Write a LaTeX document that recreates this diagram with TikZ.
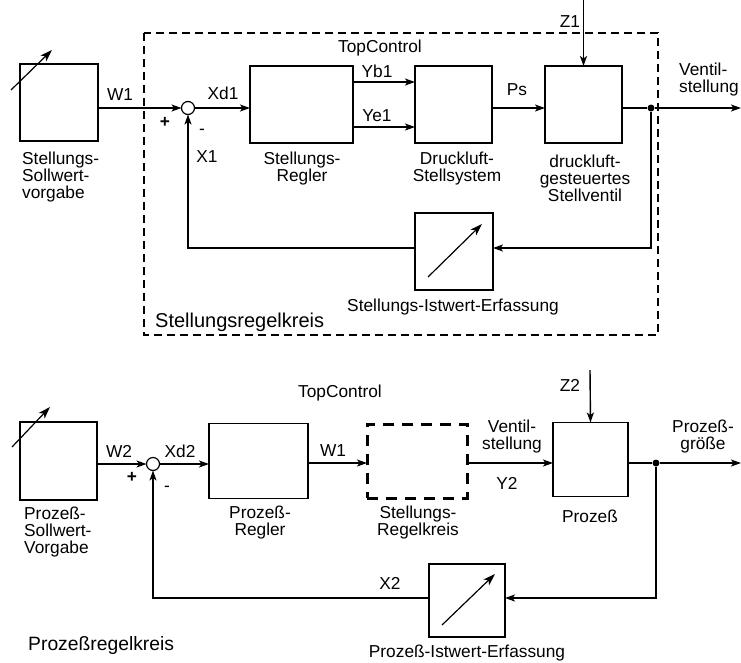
\documentclass[tikz,border=0pt]{standalone}
\usepackage{fontspec}
\setmainfont{Liberation Sans}
\usetikzlibrary{arrows.meta}
\newcommand{\lblfont}{\fontsize{17.3}{17}\selectfont}
\newcommand{\grpfont}{\fontsize{20}{22}\selectfont}
\begin{document}
\begin{tikzpicture}[x=1pt,y=-1pt,
  blk/.style={draw,line width=1.5pt,inner sep=0pt,outer sep=0pt},
  con/.style={line width=1.4pt},
  arr/.style={con,-{Stealth[length=10pt,width=7pt,inset=2.5pt]}},
  adj/.style={line width=1.2pt,-{Stealth[length=12pt,width=8pt,inset=3pt]}},
  lbl/.style={font=\lblfont,inner sep=0pt,align=center},
  grplbl/.style={font=\grpfont,inner sep=0pt,anchor=west},
  sumpt/.style={draw,circle,line width=1.2pt,minimum size=13pt,inner sep=0pt,outer sep=0pt},
  dotpt/.style={fill,circle,minimum size=7pt,inner sep=0pt},
  grp/.style={draw,line width=1.5pt,dash pattern=on 8pt off 5pt},
  grpb/.style={draw,line width=3pt,dash pattern=on 11pt off 8pt,inner sep=0pt,outer sep=0pt}]
\useasboundingbox (0,0) rectangle (741,662);

% ---------- upper loop ----------
\draw[grp] (144,33) rectangle (658,335);
\node[blk,minimum width=78pt,minimum height=77pt] (sw1) at (59,102.5) {};
\draw[adj] (11,90) -- (52,50);
\node[sumpt] (s1) at (188,108) {};
\node[blk,minimum width=103pt,minimum height=77pt] (reg1) at (301.5,104.5) {};
\node[blk,minimum width=77pt,minimum height=77pt] (act1) at (453.5,104.5) {};
\node[blk,minimum width=77pt,minimum height=77pt] (val1) at (583.5,104.5) {};
\node[blk,minimum width=78pt,minimum height=77pt] (ist1) at (454,251.5) {};
\draw[adj] (428,277) -- (482,224);
\node[dotpt] (j1) at (651,108) {};
\coordinate (o1) at (741,108);
\coordinate (z1) at (583.5,0);
\coordinate (yb) at (0,82);
\coordinate (ye) at (0,127);
\coordinate (fb1r) at (651,248);
\coordinate (fb1l) at (188,248);

\draw[arr] (sw1.east |- s1) -- (s1.west);
\draw[arr] (s1.east) -- (reg1.west |- s1);
\draw[arr] (reg1.east |- yb) -- (act1.west |- yb);
\draw[arr] (reg1.east |- ye) -- (act1.west |- ye);
\draw[arr] (act1.east |- s1) -- (val1.west |- s1);
\draw[con] (val1.east |- j1) -- (j1);
\draw[arr] (j1) -- (o1);
\draw[arr] (z1) -- (val1.north);
\draw[arr] (j1) -- (fb1r) -- (ist1.east |- fb1r);
\draw[arr] (ist1.west |- fb1r) -- (fb1l) -- (s1.south);

\node[lbl] at (380,48) {TopControl};
\node[lbl] at (120,95) {W1};
\node[lbl] at (165,122) {\textbf{+}};
\node[lbl] at (202,132) {-};
\node[lbl] at (223,93) {Xd1};
\node[lbl] at (207,157) {X1};
\node[lbl] at (377,71) {Yb1};
\node[lbl] at (377,116) {Ye1};
\node[lbl] at (517,90) {Ps};
\node[lbl] at (570,22) {Z1};
\node[lbl,align=left,anchor=west] at (679,80) {Ventil-\\stellung};
\node[lbl,align=left,anchor=west] at (22,177) {Stellungs-\\Sollwert-\\vorgabe};
\node[lbl] at (302,169) {Stellungs-\\Regler};
\node[lbl] at (457,169) {Druckluft-\\Stellsystem};
\node[lbl] at (585,178) {druckluft-\\gesteuertes\\Stellventil};
\node[lbl] at (453,307) {Stellungs-Istwert-Erfassung};
\node[grplbl] at (155,322) {Stellungsregelkreis};

% ---------- lower loop ----------
\node[blk,minimum width=77pt,minimum height=78pt] (sw2) at (58.5,461) {};
\draw[adj] (12,447) -- (50,407);
\node[sumpt] (s2) at (153,464) {};
\node[blk,minimum width=99pt,minimum height=75pt] (reg2) at (258.5,461) {};
\node[grpb,minimum width=100pt,minimum height=74pt] (stk) at (417,461) {};
\node[blk,minimum width=75pt,minimum height=74pt] (proc) at (590.5,459.5) {};
\node[blk,minimum width=76pt,minimum height=73pt] (ist2) at (467,600.5) {};
\draw[adj] (442,625) -- (495,574);
\node[dotpt] (j2) at (656,463) {};
\coordinate (o2) at (741,463);
\coordinate (z2) at (590,370);
\coordinate (fb2r) at (656,598);
\coordinate (fb2l) at (153,598);

\draw[arr] (sw2.east |- s2) -- (s2.west);
\draw[arr] (s2.east) -- (reg2.west |- s2);
\draw[arr] (reg2.east |- j2) -- (stk.west |- j2);
\draw[arr] (stk.east |- j2) -- (proc.west |- j2);
\draw[con] (proc.east |- j2) -- (j2);
\draw[arr] (j2) -- (o2);
\draw[arr] (z2) -- (proc.north);
\draw[arr] (j2) -- (fb2r) -- (ist2.east |- fb2r);
\draw[arr] (ist2.west |- fb2r) -- (fb2l) -- (s2.south);

\node[lbl] at (340,393) {TopControl};
\node[lbl] at (119,451) {W2};
\node[lbl] at (132,477) {\textbf{+}};
\node[lbl] at (167,489) {-};
\node[lbl] at (180,451) {Xd2};
\node[lbl] at (333,451) {W1};
\node[lbl] at (512,437) {Ventil-\\stellung};
\node[lbl] at (507,483) {Y2};
\node[lbl] at (570,385) {Z2};
\node[lbl] at (703,437) {Prozeß-\\größe};
\node[lbl] at (590,516) {Prozeß};
\node[lbl] at (418,523) {Stellungs-\\Regelkreis};
\node[lbl,align=left,anchor=west] at (24,532) {Prozeß-\\Sollwert-\\Vorgabe};
\node[lbl] at (260,523) {Prozeß-\\Regler};
\node[lbl] at (390,583) {X2};
\node[lbl] at (467,653) {Prozeß-Istwert-Erfassung};
\node[grplbl,font=\fontsize{19.3}{21}\selectfont] at (28,645) {Prozeßregelkreis};
\end{tikzpicture}
\end{document}
